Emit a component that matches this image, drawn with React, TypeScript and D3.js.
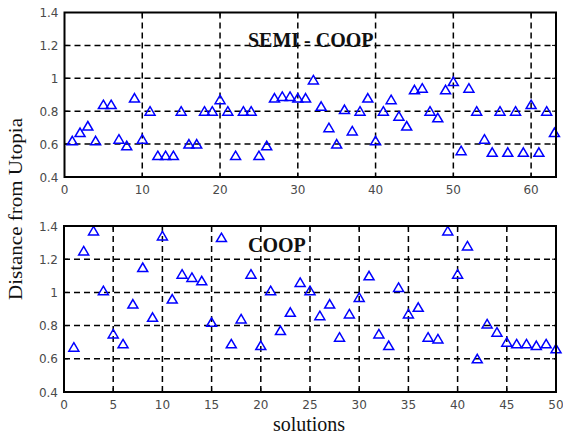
import React from "react";
import * as d3 from "d3";

const semiX: number[] = d3.range(1, 64);
const semiValues: number[] = [
  0.62, 0.67, 0.71, 0.62, 0.84, 0.84, 0.63, 0.59, 0.88, 0.63,
  0.80, 0.53, 0.53, 0.53, 0.80, 0.60, 0.60, 0.80, 0.80, 0.87,
  0.80, 0.53, 0.80, 0.80, 0.53, 0.59, 0.88, 0.89, 0.89, 0.88,
  0.88, 0.99, 0.83, 0.70, 0.60, 0.81, 0.68, 0.80, 0.88, 0.62,
  0.80, 0.87, 0.77, 0.71, 0.93, 0.94, 0.80, 0.76, 0.93, 0.98,
  0.56, 0.94, 0.80, 0.63, 0.55, 0.80, 0.55, 0.80, 0.55, 0.84,
  0.55, 0.80, 0.67,
];

const coopX: number[] = d3.range(1, 51);
const coopValues: number[] = [
  0.67, 1.25, 1.37, 1.01, 0.75, 0.69, 0.93, 1.15, 0.85, 1.34,
  0.96, 1.11, 1.09, 1.07, 0.82, 1.33, 0.69, 0.84, 1.11, 0.68,
  1.01, 0.77, 0.88, 1.06, 1.01, 0.86, 0.93, 0.73, 0.87, 0.97,
  1.10, 0.75, 0.68, 1.03, 0.87, 0.91, 0.73, 0.72, 1.37, 1.11,
  1.28, 0.60, 0.81, 0.76, 0.70, 0.69, 0.69, 0.68, 0.69, 0.66,
];

const yTicks: number[] = [0.4, 0.6, 0.8, 1.0, 1.2, 1.4];
const yTickLabels: string[] = ["0.4", "0.6", "0.8", "1", "1.2", "1.4"];
const semiXTicks: number[] = [0, 10, 20, 30, 40, 50, 60];
const coopXTicks: number[] = [0, 5, 10, 15, 20, 25, 30, 35, 40, 45, 50];

const titles: string[] = ["SEMI - COOP", "COOP"];
const yLabel = "Distance from  Utopia";
const xLabel = "solutions";

const W = 563;
const H = 437;

const TRI = "M0,-4.5L5,4L-5,4Z";

type PanelProps = {
  xs: number[];
  ys: number[];
  xDomain: [number, number];
  xTicks: number[];
  left: number;
  right: number;
  top: number;
  bottom: number;
  title: string;
  titleX: number;
  titleY: number;
};

function Panel(p: PanelProps) {
  const x = d3.scaleLinear().domain(p.xDomain).range([p.left, p.right]);
  const y = d3.scaleLinear().domain([0.4, 1.4]).range([p.bottom, p.top]);
  const tickLen = 4;
  const labelStyle = {
    fontFamily: "DejaVu Sans, sans-serif",
    fontSize: 12,
    fill: "#4a4a4a",
  } as const;
  return (
    <g>
      <rect x={p.left} y={p.top} width={p.right - p.left} height={p.bottom - p.top} fill="#fff" />
      {p.xTicks
        .filter((t) => t > p.xDomain[0] && t < p.xDomain[1])
        .map((t) => (
          <line
            key={"gx" + t}
            x1={x(t)}
            x2={x(t)}
            y1={p.top}
            y2={p.bottom}
            stroke="#000"
            strokeWidth={1.5}
            strokeDasharray="6,4"
          />
        ))}
      {yTicks
        .filter((t) => t > 0.4 + 1e-9 && t < 1.4 - 1e-9)
        .map((t) => (
          <line
            key={"gy" + t}
            x1={p.left}
            x2={p.right}
            y1={y(t)}
            y2={y(t)}
            stroke="#000"
            strokeWidth={1.5}
            strokeDasharray="6,4"
          />
        ))}
      {p.xTicks.map((t) => (
        <g key={"tx" + t}>
          <line x1={x(t)} x2={x(t)} y1={p.bottom} y2={p.bottom - tickLen} stroke="#000" strokeWidth={1} />
          <line x1={x(t)} x2={x(t)} y1={p.top} y2={p.top + tickLen} stroke="#000" strokeWidth={1} />
          <text x={x(t)} y={p.bottom + 17} textAnchor="middle" {...labelStyle}>
            {String(t)}
          </text>
        </g>
      ))}
      {yTicks.map((t, i) => (
        <g key={"ty" + t}>
          <line x1={p.left} x2={p.left + tickLen} y1={y(t)} y2={y(t)} stroke="#000" strokeWidth={1} />
          <line x1={p.right} x2={p.right - tickLen} y1={y(t)} y2={y(t)} stroke="#000" strokeWidth={1} />
          <text x={p.left - 6} y={y(t) + 4.5} textAnchor="end" {...labelStyle}>
            {yTickLabels[i]}
          </text>
        </g>
      ))}
      <text
        x={p.titleX}
        y={p.titleY}
        fontFamily="Liberation Serif, Times New Roman, serif"
        fontWeight="bold"
        fontSize={20}
        fill="#111"
      >
        {p.title}
      </text>
      {p.xs.map((xv, i) => (
        <path
          key={"m" + i}
          d={TRI}
          transform={`translate(${x(xv)},${y(p.ys[i])})`}
          fill="none"
          stroke="#0000ff"
          strokeWidth={1.5}
        />
      ))}
      <rect
        x={p.left}
        y={p.top}
        width={p.right - p.left}
        height={p.bottom - p.top}
        fill="none"
        stroke="#000"
        strokeWidth={2}
      />
    </g>
  );
}

export default function App() {
  return (
    <svg
      width={W}
      height={H}
      viewBox={`0 0 ${W} ${H}`}
      style={{ position: "absolute", left: 0, top: 0, background: "#fff" }}
    >
      <rect x={0} y={0} width={W} height={H} fill="#fff" />
      <Panel
        xs={semiX}
        ys={semiValues}
        xDomain={[0, 63.2]}
        xTicks={semiXTicks}
        left={64.5}
        right={556}
        top={12.5}
        bottom={177}
        title={titles[0]}
        titleX={248}
        titleY={47}
      />
      <Panel
        xs={coopX}
        ys={coopValues}
        xDomain={[0, 50]}
        xTicks={coopXTicks}
        left={64}
        right={556}
        top={226}
        bottom={392}
        title={titles[1]}
        titleX={248}
        titleY={252}
      />
      <text
        transform="translate(22,209) rotate(-90)"
        textAnchor="middle"
        fontFamily="Liberation Serif, Times New Roman, serif"
        fontSize={19}
        textLength={182}
        lengthAdjust="spacingAndGlyphs"
        fill="#111"
      >
        {yLabel}
      </text>
      <text
        x={309}
        y={431}
        textAnchor="middle"
        fontFamily="Liberation Serif, Times New Roman, serif"
        fontSize={20}
        fill="#111"
      >
        {xLabel}
      </text>
    </svg>
  );
}
